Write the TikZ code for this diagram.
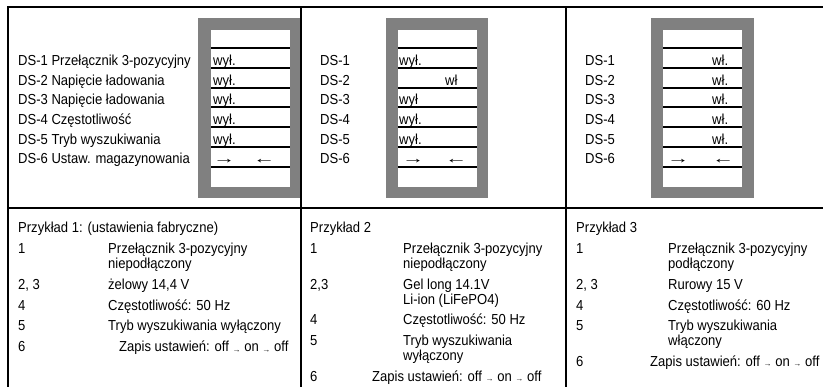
\documentclass[tikz,border=0pt]{standalone}
\usepackage{fontspec}
\usepackage{graphicx}
\setmainfont[FakeStretch=0.9]{Liberation Sans}
\definecolor{boxgray}{HTML}{808080}
\newcommand\fs{\fontsize{14.5}{14.5}\selectfont}
\newcommand\sarr{\raisebox{-0.3pt}{\scalebox{1.2}[1]{\fontsize{7.5}{7.5}\selectfont →}}}
\newcommand\rarr{\scalebox{1.7}[1]{→}}
\newcommand\larr{\scalebox{1.7}[1]{←}}
\tikzset{
  rule/.style={line width=2pt},
  rowline/.style={line width=1.7pt},
  graybox/.style={fill=boxgray, draw=none},
  lbl/.style={anchor=base west, inner sep=0pt, font=\fs},
}
\begin{document}
\begin{tikzpicture}[x=1pt,y=-1pt]
\useasboundingbox (0,0) rectangle (823,387);
% frame
\draw[rule] (7,7) -- (823,7);
\draw[rule] (8,7) -- (8,387);
\draw[rule] (301,7) -- (301,387);
\draw[rule] (566,7) -- (566,387);
\draw[rule] (8,208) -- (823,208);
% switch boxes
\fill[graybox] (198,18) rectangle (300,198);
\fill[white] (211,30) rectangle (290,187);
\fill[graybox] (386,18) rectangle (488,198);
\fill[white] (398,30) rectangle (477,187);
\fill[graybox] (651,18) rectangle (754,198);
\fill[white] (663,30) rectangle (742,187);
\foreach \yy in {48,68,88,107,127,147,167}{
  \draw[rowline] (211,\yy) -- (290,\yy);
  \draw[rowline] (398,\yy) -- (477,\yy);
  \draw[rowline] (663,\yy) -- (742,\yy);
}
% column 1 labels
\node[lbl] (a1) at (18,66) {DS-1 Przełącznik 3-pozycyjny};
\node[lbl] (a2) at (18,86) {DS-2 Napięcie ładowania};
\node[lbl] (a3) at (18,105) {DS-3 Napięcie ładowania};
\node[lbl] (a4) at (18,125) {DS-4 Częstotliwość};
\node[lbl] (a5) at (18,145) {DS-5 Tryb wyszukiwania};
\node[lbl] (a6) at (18,164) {DS-6 Ustaw. magazynowania};
\node[lbl] (s11) at (213,66) {wył.};
\node[lbl] (s12) at (213,86) {wył.};
\node[lbl] (s13) at (213,105) {wył.};
\node[lbl] (s14) at (213,125) {wył.};
\node[lbl] (s15) at (213,145) {wył.};
\node[lbl] (s16a) at (213,164) {\rarr};
\node[lbl] (s16b) at (253,164) {\larr};
% column 2 labels
\node[lbl] (b1) at (320,66) {DS-1};
\node[lbl] (b2) at (320,86) {DS-2};
\node[lbl] (b3) at (320,105) {DS-3};
\node[lbl] (b4) at (320,125) {DS-4};
\node[lbl] (b5) at (320,145) {DS-5};
\node[lbl] (b6) at (320,164) {DS-6};
\node[lbl] (s21) at (399,66) {wył.};
\node[lbl] (s22) at (445,86) {wł};
\node[lbl] (s23) at (399,105) {wył};
\node[lbl] (s24) at (399,125) {wył.};
\node[lbl] (s25) at (399,145) {wył.};
\node[lbl] (s26a) at (402,164) {\rarr};
\node[lbl] (s26b) at (445,164) {\larr};
% column 3 labels
\node[lbl] (c1) at (585,66) {DS-1};
\node[lbl] (c2) at (585,86) {DS-2};
\node[lbl] (c3) at (585,105) {DS-3};
\node[lbl] (c4) at (585,125) {DS-4};
\node[lbl] (c5) at (585,145) {DS-5};
\node[lbl] (c6) at (585,164) {DS-6};
\node[lbl] (s31) at (712,66) {wł.};
\node[lbl] (s32) at (712,86) {wł.};
\node[lbl] (s33) at (712,105) {wł.};
\node[lbl] (s34) at (712,125) {wł.};
\node[lbl] (s35) at (712,145) {wł.};
\node[lbl] (s36a) at (667,164) {\rarr};
\node[lbl] (s36b) at (712,164) {\larr};
% bottom column 1
\node[lbl] (p1) at (18,233) {Przykład 1: (ustawienia fabryczne)};
\node[lbl] (p1n1) at (18,253.8) {1};
\node[lbl] (p1d1) at (108,253.8) {Przełącznik 3-pozycyjny};
\node[lbl] (p1d1b) at (108,268.6) {niepodłączony};
\node[lbl] (p1n2) at (18,289.4) {2, 3};
\node[lbl] (p1d2) at (108,289.4) {żelowy 14,4 V};
\node[lbl] (p1n4) at (18,310.2) {4};
\node[lbl] (p1d4) at (108,310.2) {Częstotliwość: 50 Hz};
\node[lbl] (p1n5) at (18,331) {5};
\node[lbl] (p1d5) at (108,331) {Tryb wyszukiwania wyłączony};
\node[lbl] (p1n6) at (18,351.8) {6};
\node[lbl] (p1d6) at (119,351.8) {Zapis ustawień: off \sarr{} on \sarr{} off};
% bottom column 2
\node[lbl] (p2) at (310,233) {Przykład 2};
\node[lbl] (p2n1) at (310,253.8) {1};
\node[lbl] (p2d1) at (403,253.8) {Przełącznik 3-pozycyjny};
\node[lbl] (p2d1b) at (403,268.6) {niepodłączony};
\node[lbl] (p2n2) at (310,289.4) {2,3};
\node[lbl] (p2d2) at (403,289.4) {Gel long 14.1V};
\node[lbl] (p2d2b) at (403,304.2) {Li-ion (LiFePO4)};
\node[lbl] (p2n4) at (310,325) {4};
\node[lbl] (p2d4) at (403,325) {Częstotliwość: 50 Hz};
\node[lbl] (p2n5) at (310,345.8) {5};
\node[lbl] (p2d5) at (403,345.8) {Tryb wyszukiwania};
\node[lbl] (p2d5b) at (403,360.6) {wyłączony};
\node[lbl] (p2n6) at (310,381.4) {6};
\node[lbl] (p2d6) at (372,381.4) {Zapis ustawień: off \sarr{} on \sarr{} off};
% bottom column 3
\node[lbl] (p3) at (576,233) {Przykład 3};
\node[lbl] (p3n1) at (576,253.8) {1};
\node[lbl] (p3d1) at (668,253.8) {Przełącznik 3-pozycyjny};
\node[lbl] (p3d1b) at (668,268.6) {podłączony};
\node[lbl] (p3n2) at (576,289.4) {2, 3};
\node[lbl] (p3d2) at (668,289.4) {Rurowy 15 V};
\node[lbl] (p3n4) at (576,310.2) {4};
\node[lbl] (p3d4) at (668,310.2) {Częstotliwość: 60 Hz};
\node[lbl] (p3n5) at (576,331) {5};
\node[lbl] (p3d5) at (668,331) {Tryb wyszukiwania};
\node[lbl] (p3d5b) at (668,345.8) {włączony};
\node[lbl] (p3n6) at (576,366.6) {6};
\node[lbl] (p3d6) at (650,366.6) {Zapis ustawień: off \sarr{} on \sarr{} off};
\end{tikzpicture}
\end{document}
